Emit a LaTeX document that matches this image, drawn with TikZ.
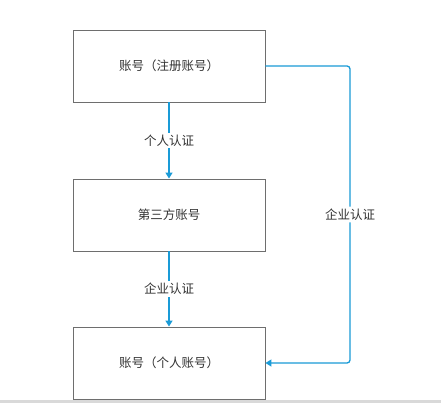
\documentclass[tikz,border=0pt]{standalone}
\usepackage{fontspec}
\newfontfamily\cjk{Noto Sans CJK SC}
\usetikzlibrary{arrows.meta}
\definecolor{boxline}{HTML}{6E6E6E}
\definecolor{txt}{HTML}{333333}
\definecolor{flow}{HTML}{1A9BD7}
\tikzset{
  x=1pt,y=-1pt,
  box/.style={draw=boxline,line width=0.9pt,minimum width=192pt,minimum height=72pt,inner sep=0pt,font=\cjk\fontsize{12.5}{14}\selectfont,text=txt},
  lbl/.style={fill=white,inner sep=2pt,font=\cjk\fontsize{12.5}{14}\selectfont,text=txt},
  conn/.style={draw=flow,line width=1.3pt,-{Triangle[length=6pt,width=7pt]}},
}
\begin{document}
\begin{tikzpicture}
\useasboundingbox (0,0) rectangle (441,403);
\fill[white] (0,0) rectangle (441,403);
\fill[black!15] (0,400) rectangle (441,403);
\node[box] (a) at (169,66) {账号（注册账号）};
\node[box] (b) at (169,215) {第三方账号};
\node[box] (c) at (169,363) {账号（个人账号）};
\coordinate (r1) at (350,66);
\coordinate (r2) at (350,363);
\draw[conn] (a.south) -- node[lbl] {个人认证} (b.north);
\draw[conn] (b.south) -- node[lbl] {企业认证} (c.north);
\draw[conn,rounded corners=3pt] (a.east) -- (r1) -- node[lbl,pos=0.5] {企业认证} (r2) -- (c.east);
\end{tikzpicture}
\end{document}
